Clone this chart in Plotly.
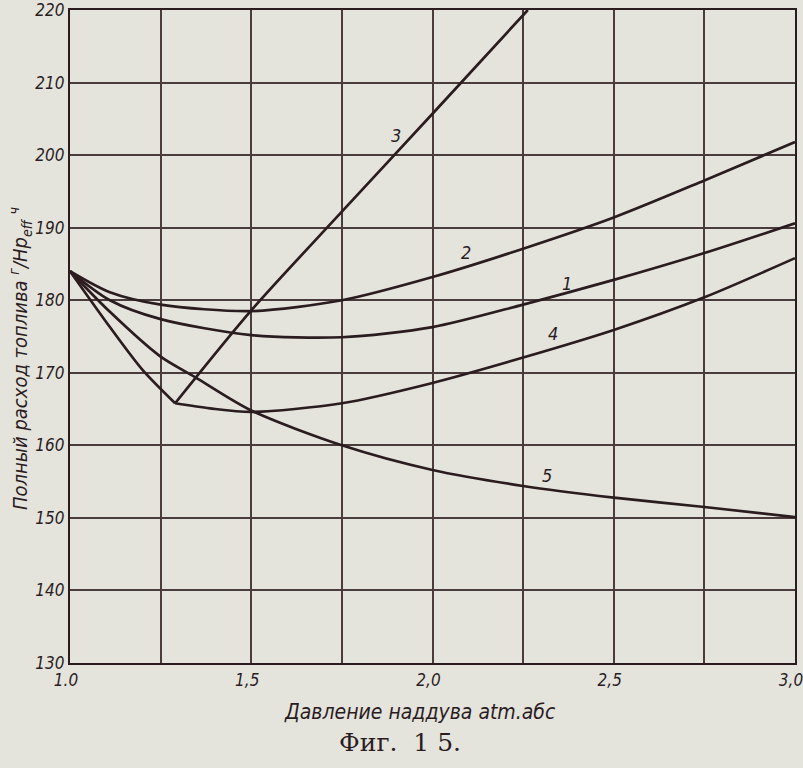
import plotly.graph_objects as go

# ---- data ----
c1_x = [1.0, 1.11, 1.25, 1.5, 1.75, 2.0, 2.25, 2.5, 2.75, 3.0]
c1_y = [184, 180.0, 177.4, 175.2, 174.9, 176.3, 179.4, 182.8, 186.5, 190.6]

c2_x = [1.0, 1.11, 1.25, 1.5, 1.75, 2.0, 2.25, 2.5, 2.75, 3.0]
c2_y = [184, 181.1, 179.4, 178.5, 180.0, 183.2, 187.1, 191.4, 196.5, 201.8]

c3_x = [1.29, 1.5, 1.75, 2.0, 2.263]
c3_y = [165.8, 178.6, 192.2, 205.7, 220.0]

c4a_x = [1.0, 1.11, 1.20, 1.29]
c4a_y = [184, 176.3, 170.4, 165.8]
c4b_x = [1.29, 1.386, 1.5, 1.75, 2.0, 2.25, 2.5, 2.75, 3.0]
c4b_y = [165.8, 165.1, 164.6, 165.8, 168.6, 172.1, 175.9, 180.4, 185.8]

c5_x = [1.0, 1.11, 1.248, 1.345, 1.5, 1.75, 2.0, 2.25, 2.5, 2.75, 3.0]
c5_y = [184, 178.4, 172.3, 169.4, 164.8, 160.0, 156.6, 154.4, 152.8, 151.5, 150.1]

curve_labels = ["3", "2", "1", "4", "5"]
label_x = [1.90, 2.092, 2.371, 2.332, 2.316]
label_y = [202.7, 186.6, 182.3, 175.4, 155.9]

x_tick_vals = [1.0, 1.5, 2.0, 2.5, 3.0]
x_tick_text = ["1.0", "1,5", "2,0", "2,5", "3,0"]
y_tick_vals = [130, 140, 150, 160, 170, 180, 190, 200, 210, 220]

# ---- styling ----
INK = "#2b1d1f"
GRID = "#4a3b3c"
PAPER = "#e4e4dd"
FONT = "DejaVu Sans Condensed, Liberation Sans Narrow, DejaVu Sans, sans-serif"

fig = go.Figure()
for xs, ys in [(c1_x, c1_y), (c2_x, c2_y), (c3_x, c3_y), (c4a_x, c4a_y),
               (c4b_x, c4b_y), (c5_x, c5_y)]:
    fig.add_trace(go.Scatter(x=xs, y=ys, mode="lines",
                             line=dict(color=INK, width=2.7, shape="spline", smoothing=0.8),
                             showlegend=False, hoverinfo="skip"))

for t, lx, ly in zip(curve_labels, label_x, label_y):
    fig.add_annotation(x=lx, y=ly, text=t, showarrow=False,
                       font=dict(family=FONT, size=18, color=INK, style="italic"))

fig.add_annotation(xref="paper", yref="paper", x=-0.069, y=0.467,
                   xanchor="center", yanchor="middle",
                   text="Полный расход топлива <sup>г</sup>/Hp<sub>eff</sub> <sup>ч</sup>",
                   textangle=-90, showarrow=False,
                   font=dict(family=FONT, size=20, color=INK, style="italic"))
fig.add_annotation(xref="paper", yref="paper", x=0.483, y=-0.075,
                   xanchor="center", yanchor="middle",
                   text="Давление наддува atm.абс", showarrow=False,
                   font=dict(family=FONT, size=21, color=INK, style="italic"))
fig.add_annotation(xref="paper", yref="paper", x=0.455, y=-0.1225,
                   xanchor="center", yanchor="middle",
                   text="Фиг.  1 5.", showarrow=False,
                   font=dict(family="DejaVu Serif, Liberation Serif, serif", size=25, color=INK))

axis_common = dict(showline=True, linecolor=INK, linewidth=2.2, mirror=True,
                   showgrid=True, gridcolor=GRID, gridwidth=2, zeroline=False,
                   ticks="", ticklabeloverflow="allow", automargin=False,
                   tickfont=dict(family=FONT, size=17, color=INK, style="italic"))

fig.update_xaxes(range=[1.0, 3.0], tickvals=x_tick_vals, ticktext=x_tick_text,
                 ticklabelshift=-4,
                 minor=dict(dtick=0.25, showgrid=True, gridcolor=GRID, gridwidth=2, ticks=""),
                 **axis_common)
fig.update_yaxes(range=[130, 220], tickvals=y_tick_vals, **axis_common)

fig.update_layout(width=803, height=768, autosize=False,
                  margin=dict(l=70, r=8, t=10, b=105),
                  paper_bgcolor=PAPER, plot_bgcolor=PAPER)

fig.write_html("out.html",
               config={"displayModeBar": False, "staticPlot": True},
               post_script="document.body.style.margin='0';document.body.style.padding='0';"
                           "document.body.style.background='" + PAPER + "';")
